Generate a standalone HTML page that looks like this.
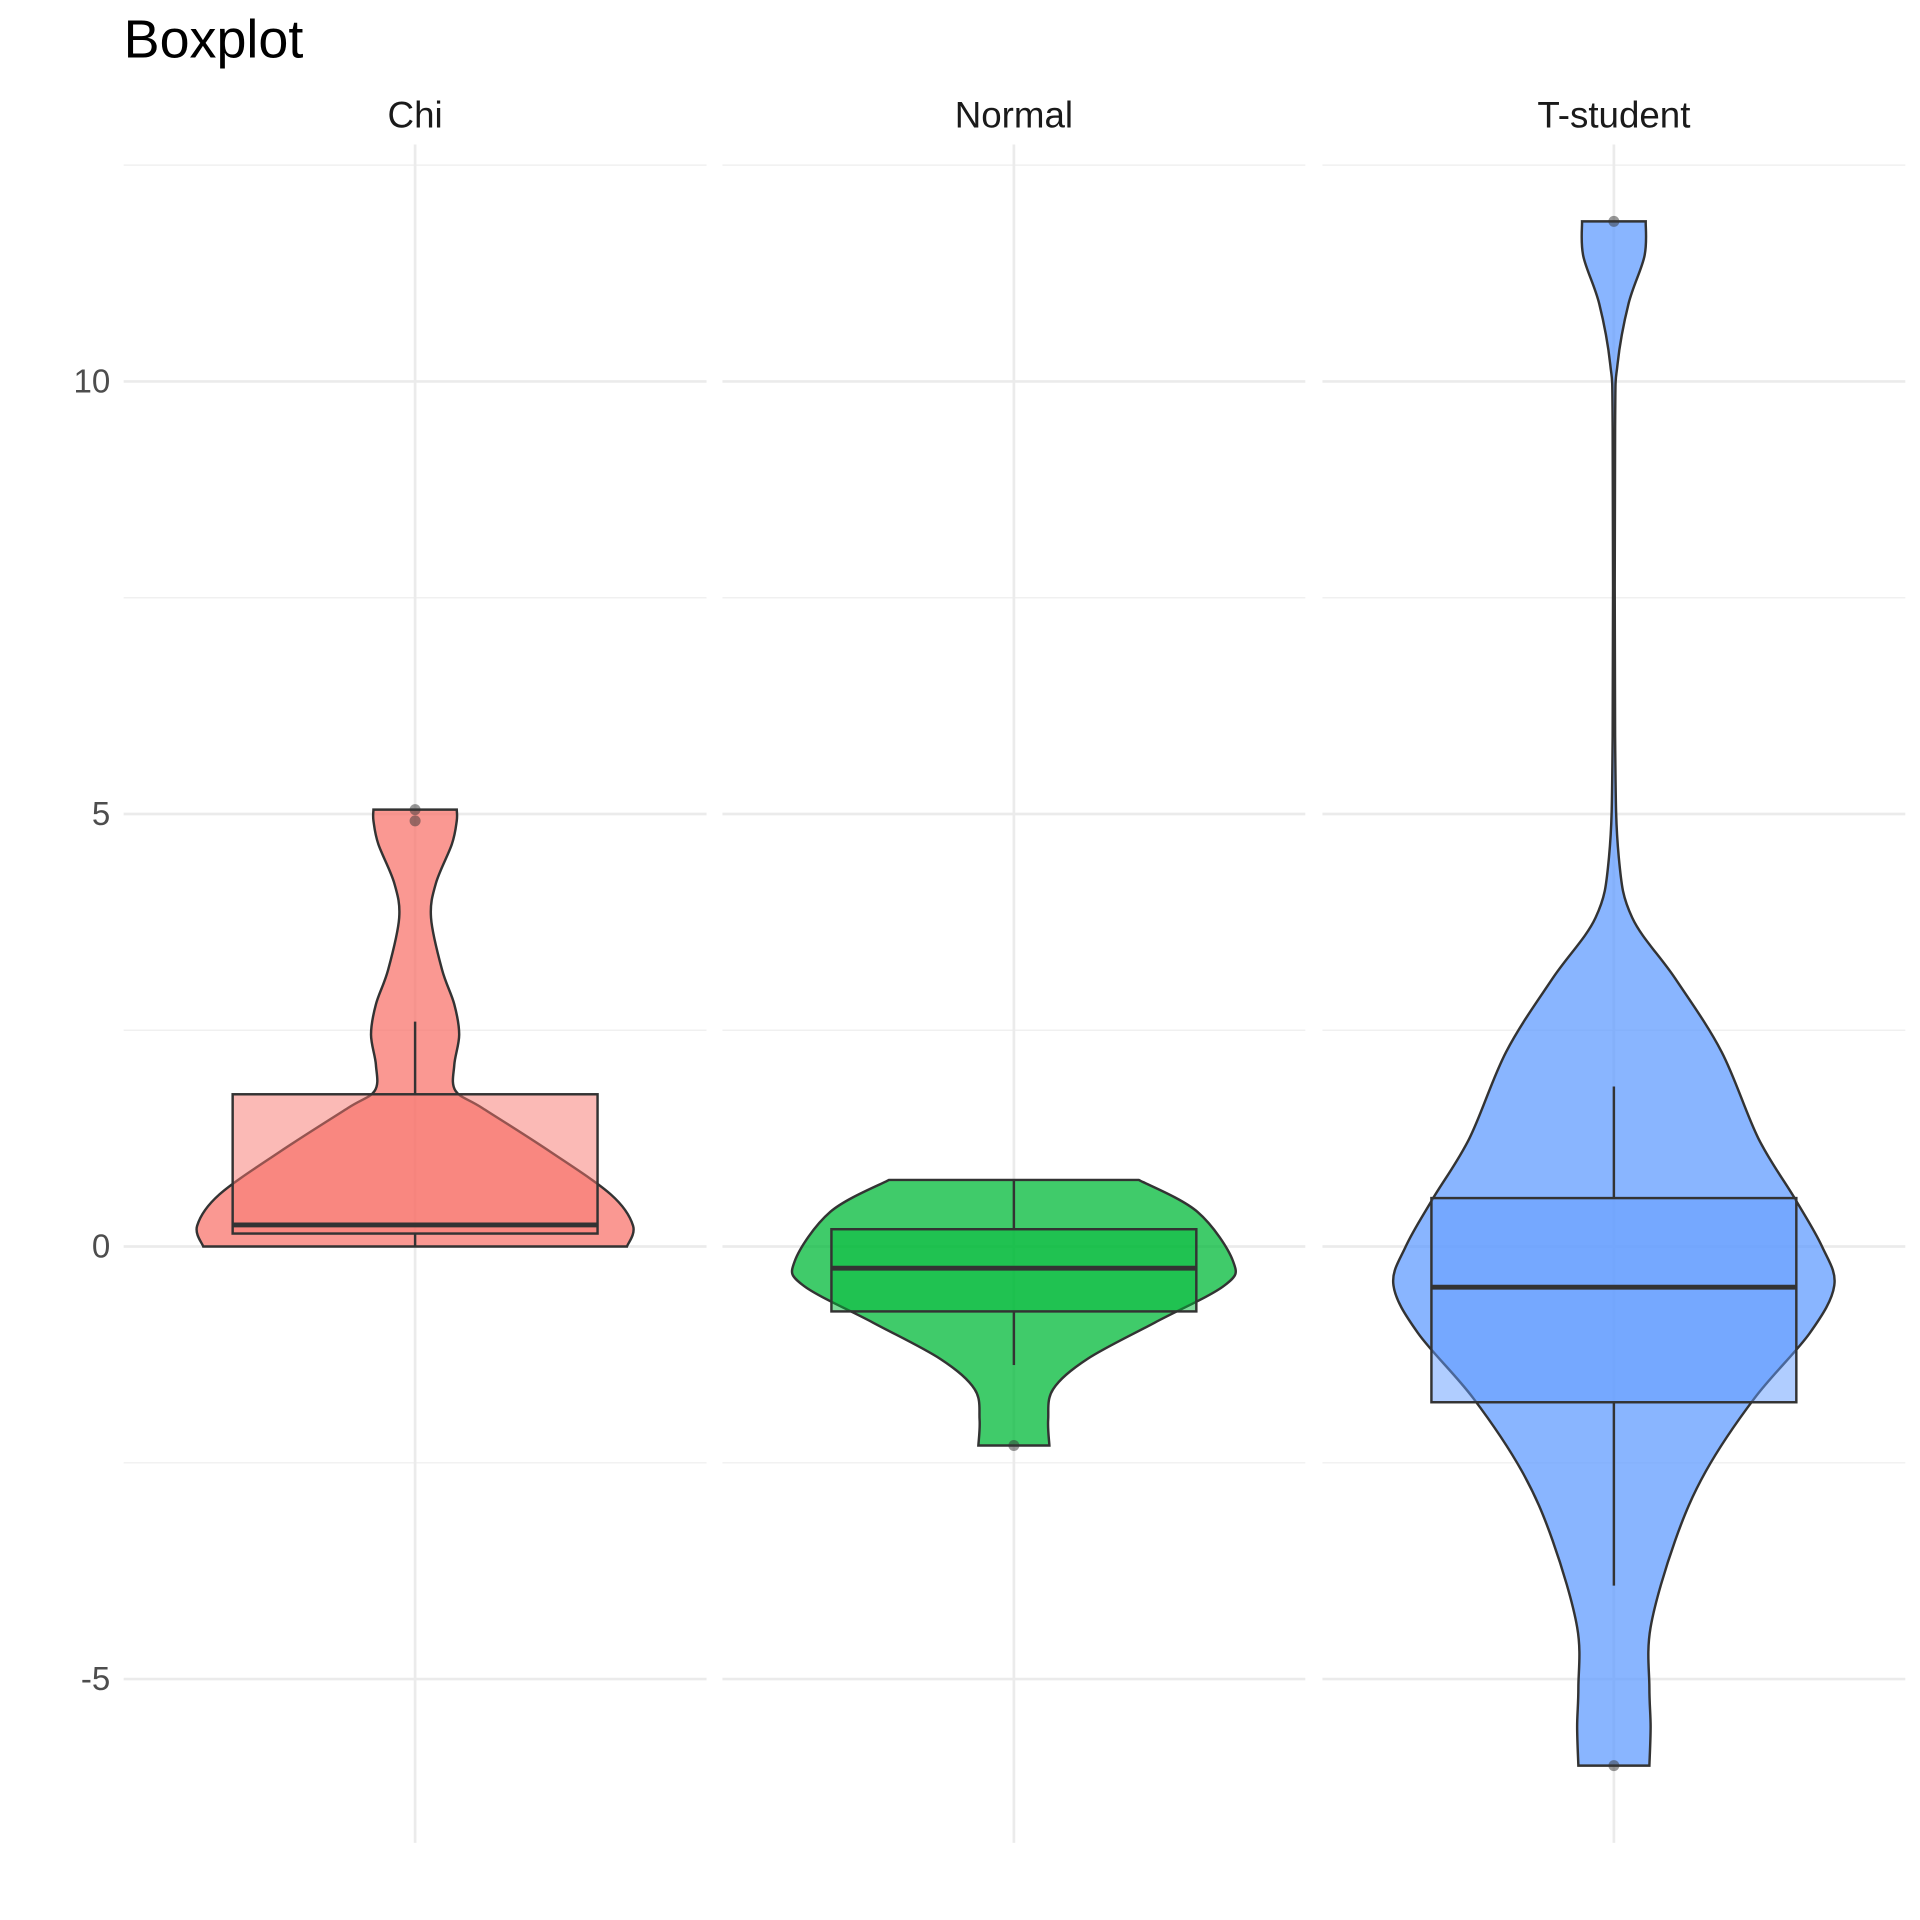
<!DOCTYPE html>
<html><head><meta charset="utf-8"><style>
html,body{margin:0;padding:0;background:#fff;}
svg{display:block;font-family:"Liberation Sans",sans-serif;}
</style></head><body>
<svg id="chart" width="1920" height="1920" viewBox="0 0 1568 1568" xmlns="http://www.w3.org/2000/svg">
<text x="101" y="47" font-size="44" fill="#000">Boxplot</text>
<g id="grid"></g><g id="marks"></g><g id="labels"></g>
</svg>
<script>
const categories = ["Chi","Normal","T-student"];
const colors = ["#F8766D","#00BA38","#619CFF"];
const yTicks = [-5,0,5,10];
const yTickLabels = ["-5","0","5","10"];
const yMinor = [-2.5,2.5,7.5,12.5];
// violin profiles: values and half-widths (density)
const chiV = [0,0.24,0.6,1.1,1.6,1.8,2.1,2.45,2.8,3.2,3.8,4.2,4.65,4.92,5.05];
const chiW = [173,178,160,110,55,33,32,36,32,22,13,17,30,34,34];
const normV = [-2.3,-2.0,-1.65,-1.3,-0.88,-0.45,-0.17,0.4,0.77];
const normW = [29,28,32,60,115,172,179,150,102];
const tV = [-6.0,-5.55,-5.1,-4.4,-3.4,-2.6,-1.75,-1.0,-0.45,0,0.55,1.25,2.25,3.1,3.8,4.5,5.9,9.45,10.2,10.9,11.45,11.85];
const tW = [29,30,29,30,50,75,115,160,180,170,148,118,88,50,15,4,1,1,3,12,25,26];
// box stats: [lowWhisker, q1, median, q3, highWhisker]
const chiBox = [0,0.15,0.25,1.76,2.6];
const normBox = [-1.37,-0.75,-0.25,0.2,0.77];
const tBox = [-3.92,-1.8,-0.47,0.56,1.85];
const chiOut = [5.05,4.92];
const normOut = [-2.3];
const tOut = [11.85,-6.0];

const NS="http://www.w3.org/2000/svg";
const panelX=[101,590,1080], panelW=476;
const yScale=v=>1018-70.65*v;
const xCenter=i=>panelX[i]+panelW/2;
function mk(tag,attrs,parent){const e=document.createElementNS(NS,tag);for(const k in attrs)e.setAttribute(k,attrs[k]);parent.appendChild(e);return e;}
const grid=document.getElementById('grid'),marks=document.getElementById('marks'),labels=document.getElementById('labels');

for(let i=0;i<3;i++){
  const x0=panelX[i];
  yMinor.forEach(v=>{const l=mk('line',{x1:x0,x2:x0+panelW,y1:yScale(v),y2:yScale(v),stroke:'#f0f0f0','stroke-width':1.2},grid);
    
    });
  yTicks.forEach(v=>{const l=mk('line',{x1:x0,x2:x0+panelW,y1:yScale(v),y2:yScale(v),stroke:'#ebebeb','stroke-width':2.2},grid);
    
    });
  const vl=mk('line',{x1:xCenter(i),x2:xCenter(i),y1:118,y2:1505,stroke:'#ebebeb','stroke-width':2.2},grid);
  
  
  const st=mk('text',{x:xCenter(i),y:104,'font-size':30,'text-anchor':'middle',fill:'#1a1a1a'},labels);
  st.textContent=categories[i];
  
  
}
yTicks.forEach((v,k)=>{const t=mk('text',{x:90,y:yScale(v)+9,'font-size':27,'text-anchor':'end',fill:'#4d4d4d'},labels);
  t.textContent=yTickLabels[k];
  
  });

function smooth(pts){
  let d='M'+pts[0][0]+','+pts[0][1];
  for(let i=0;i<pts.length-1;i++){
    const p0=pts[Math.max(0,i-1)],p1=pts[i],p2=pts[i+1],p3=pts[Math.min(pts.length-1,i+2)];
    const c1=[p1[0]+(p2[0]-p0[0])/6,p1[1]+(p2[1]-p0[1])/6];
    const c2=[p2[0]-(p3[0]-p1[0])/6,p2[1]-(p3[1]-p1[1])/6];
    d+=' C'+c1[0]+','+c1[1]+' '+c2[0]+','+c2[1]+' '+p2[0]+','+p2[1];
  }
  return d;
}
const sets=[[chiV,chiW,chiBox,chiOut],[normV,normW,normBox,normOut],[tV,tW,tBox,tOut]];
sets.forEach((s,i)=>{
  const [vs,ws,bx,out]=s, cx=xCenter(i), col=colors[i];
  const right=vs.map((v,k)=>[cx+ws[k],yScale(v)]);
  const left=vs.map((v,k)=>[cx-ws[k],yScale(v)]).reverse();
  const d=smooth(right)+' L'+left[0][0]+','+left[0][1]+smooth(left).replace(/^M[^C]*/,' ')+' Z';
  const vp=mk('path',{d:d,fill:col,'fill-opacity':0.75,stroke:'#333','stroke-width':2},marks);
  
  
  const w1=mk('line',{x1:cx,x2:cx,y1:yScale(bx[0]),y2:yScale(bx[1]),stroke:'#333','stroke-width':2},marks);
  
  
  const w2=mk('line',{x1:cx,x2:cx,y1:yScale(bx[3]),y2:yScale(bx[4]),stroke:'#333','stroke-width':2},marks);
  
  
  const r=mk('rect',{x:cx-149,width:298,y:yScale(bx[3]),height:yScale(bx[1])-yScale(bx[3]),fill:col,'fill-opacity':0.5,stroke:'#333','stroke-width':2},marks);
  
  
  const m=mk('line',{x1:cx-149,x2:cx+149,y1:yScale(bx[2]),y2:yScale(bx[2]),stroke:'#333','stroke-width':4},marks);
  
  
  out.forEach(v=>{const c=mk('circle',{cx:cx,cy:yScale(v),r:4.5,fill:'#333','fill-opacity':0.5},marks);
    
    });
});
</script>
</body></html>
